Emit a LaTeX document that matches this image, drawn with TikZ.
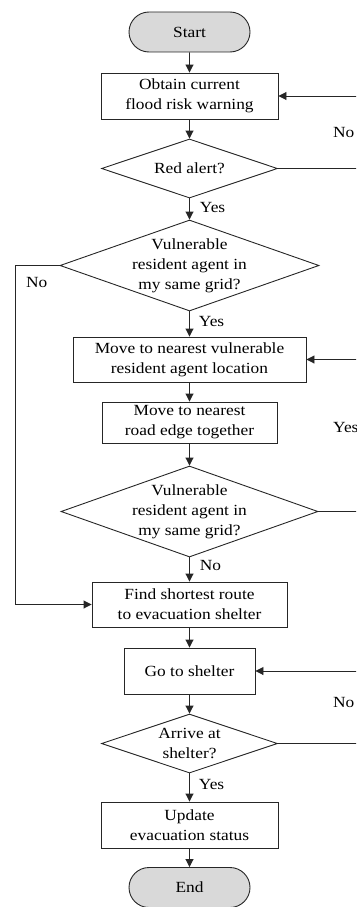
\documentclass[tikz,border=0pt]{standalone}
\usepackage{fontspec}
\setmainfont[FakeStretch=1.12]{Liberation Serif}
\usetikzlibrary{shapes.geometric,shapes.misc,arrows.meta}
\begin{document}
\begin{tikzpicture}[x=1pt,y=-1pt,
  every node/.style={font=\fontsize{15.5}{20}\selectfont, text=black},
  proc/.style={draw=black!85, line width=0.9pt, align=center, inner sep=0pt},
  term/.style={draw=black!85, line width=0.9pt, rounded rectangle, fill=black!15, inner sep=0pt, minimum width=121pt, minimum height=40pt},
  dec/.style={draw=black!85, line width=0.9pt, diamond, inner sep=0pt},
  dectext/.style={align=center, inner sep=0pt},
  arr/.style={draw=black!85, line width=0.9pt, -{Triangle[length=8pt,width=8pt]}},
  lab/.style={anchor=west, inner sep=0pt}]
\clip (0,0) rectangle (356,907);
\node[term] (start) at (189.5,32) {Start};
\node[proc, minimum width=177pt, minimum height=46pt] (obtain) at (189.5,96) {Obtain current\\flood risk warning};
\node[dec, minimum width=176pt, minimum height=59pt] (red) at (189.5,168.5) {};
\node[dectext] (redt) at (red.center) {Red alert?};
\node[dec, minimum width=259pt, minimum height=91pt] (vul1) at (189.5,265.5) {};
\node[dectext] (vul1t) at (vul1.center) {Vulnerable\\resident agent in\\my same grid?};
\node[proc, minimum width=233pt, minimum height=45pt] (move) at (189.5,359.5) {Move to nearest vulnerable\\resident agent location};
\node[proc, minimum width=175pt, minimum height=41pt] (road) at (189.5,422.5) {Move to nearest\\road edge together};
\node[dec, minimum width=257pt, minimum height=91pt] (vul2) at (189.5,511.5) {};
\node[dectext] (vul2t) at (vul2.center) {Vulnerable\\resident agent in\\my same grid?};
\node[proc, minimum width=195pt, minimum height=45pt] (find) at (189.5,604.5) {Find shortest route\\to evacuation shelter};
\node[proc, minimum width=131pt, minimum height=46pt] (go) at (189.5,671) {Go to shelter};
\node[dec, minimum width=176pt, minimum height=59pt] (arrive) at (189.5,743.5) {};
\node[dectext] (arrivet) at (arrive.center) {Arrive at\\shelter?};
\node[proc, minimum width=177pt, minimum height=46pt] (update) at (189.5,825) {Update\\evacuation status};
\node[term] (end) at (189.5,887.5) {End};
\coordinate (R) at (385,0);
\coordinate (L) at (15,0);
\draw[arr] (start) -- (obtain);
\draw[arr] (obtain) -- (red);
\draw[arr] (red) -- node[lab, pos=0.45, xshift=10pt] (y1) {Yes} (vul1);
\draw[arr] (vul1) -- node[lab, pos=0.4, xshift=9pt] (y2) {Yes} (move);
\draw[arr] (move) -- (road);
\draw[arr] (road) -- (vul2);
\draw[arr] (vul2) -- node[lab, pos=0.35, xshift=10pt] (n3) {No} (find);
\draw[arr] (find) -- (go);
\draw[arr] (go) -- (arrive);
\draw[arr] (arrive) -- node[lab, pos=0.4, xshift=9pt] (y4) {Yes} (update);
\draw[arr] (update) -- (end);
\draw[arr] (vul1.west) -- (vul1.west -| L) |- (find.west);
\node[lab] (n2) at (26,282) {No};
\draw[arr] (red.east) -- (red.east -| R) |- (obtain.east);
\node[lab] (n1) at (333,133) {No};
\draw[arr] (vul2.east) -- (vul2.east -| R) |- (move.east);
\node[lab] (y3) at (333,427) {Yes};
\draw[arr] (arrive.east) -- (arrive.east -| R) |- (go.east);
\node[lab] (n4) at (333,702) {No};
\end{tikzpicture}
\end{document}
